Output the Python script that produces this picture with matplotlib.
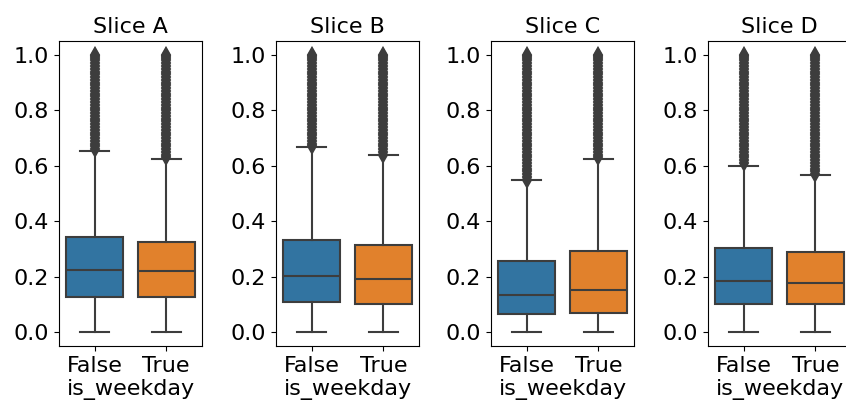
import matplotlib
matplotlib.use("Agg")
import matplotlib.pyplot as plt

# box statistics, [False, True] per slice
slices = ["Slice A", "Slice B", "Slice C", "Slice D"]
groups = ["False", "True"]

whislo = {
    "Slice A": [0.0, 0.0],
    "Slice B": [0.0, 0.0],
    "Slice C": [0.0, 0.0],
    "Slice D": [0.0, 0.0],
}
q1 = {
    "Slice A": [0.128, 0.127],
    "Slice B": [0.108, 0.102],
    "Slice C": [0.064, 0.070],
    "Slice D": [0.103, 0.103],
}
med = {
    "Slice A": [0.223, 0.219],
    "Slice B": [0.204, 0.192],
    "Slice C": [0.133, 0.151],
    "Slice D": [0.183, 0.179],
}
q3 = {
    "Slice A": [0.343, 0.326],
    "Slice B": [0.333, 0.315],
    "Slice C": [0.255, 0.293],
    "Slice D": [0.303, 0.288],
}
whishi = {
    "Slice A": [0.655, 0.626],
    "Slice B": [0.666, 0.638],
    "Slice C": [0.548, 0.625],
    "Slice D": [0.600, 0.567],
}

# outlier values (dense tail up to 1.0); each box keeps the ones above its whisker
tail_values = [0.550, 0.560, 0.570, 0.580, 0.590, 0.600, 0.610, 0.620, 0.630,
               0.640, 0.650, 0.660, 0.670, 0.680, 0.690, 0.700, 0.710, 0.720,
               0.730, 0.740, 0.750, 0.760, 0.770, 0.780, 0.790, 0.800, 0.810,
               0.820, 0.830, 0.840, 0.850, 0.860, 0.870, 0.880, 0.890, 0.900,
               0.910, 0.920, 0.930, 0.940, 0.950, 0.960, 0.970, 0.980, 0.990,
               0.995, 1.000]

colors = ["#3274a1", "#e1812c"]
line_col = "#3d3d3d"

fig = plt.figure(figsize=(8.46, 4.12), dpi=100)
lefts = [59, 276, 491, 708]

for i, name in enumerate(slices):
    ax = fig.add_axes([lefts[i] / 846, 66 / 412, 143 / 846, 305 / 412])
    stats = []
    for j, g in enumerate(groups):
        stats.append({
            "whislo": whislo[name][j],
            "q1": q1[name][j],
            "med": med[name][j],
            "q3": q3[name][j],
            "whishi": whishi[name][j],
            "fliers": [v for v in tail_values if v > whishi[name][j]],
            "label": g,
        })
    bp = ax.bxp(stats, positions=[0, 1], widths=0.8, patch_artist=True,
                boxprops=dict(edgecolor=line_col, linewidth=1.5),
                medianprops=dict(color=line_col, linewidth=1.5),
                whiskerprops=dict(color=line_col, linewidth=1.5),
                capprops=dict(color=line_col, linewidth=1.5),
                flierprops=dict(marker="d", markersize=7, markerfacecolor=line_col,
                                markeredgecolor=line_col, markeredgewidth=1.5,
                                linestyle="none"))
    for patch, c in zip(bp["boxes"], colors):
        patch.set_facecolor(c)

    ax.set_xlim(-0.5, 1.5)
    ax.set_ylim(-0.05, 1.05)
    ax.set_yticks([0.0, 0.2, 0.4, 0.6, 0.8, 1.0])
    ax.set_xticks([0, 1])
    ax.set_xticklabels(groups)
    ax.tick_params(labelsize=16)
    ax.set_xlabel("is_weekday", fontsize=16, labelpad=2)
    ax.set_title(name, fontsize=16)

fig.savefig("out.png", dpi=100)
